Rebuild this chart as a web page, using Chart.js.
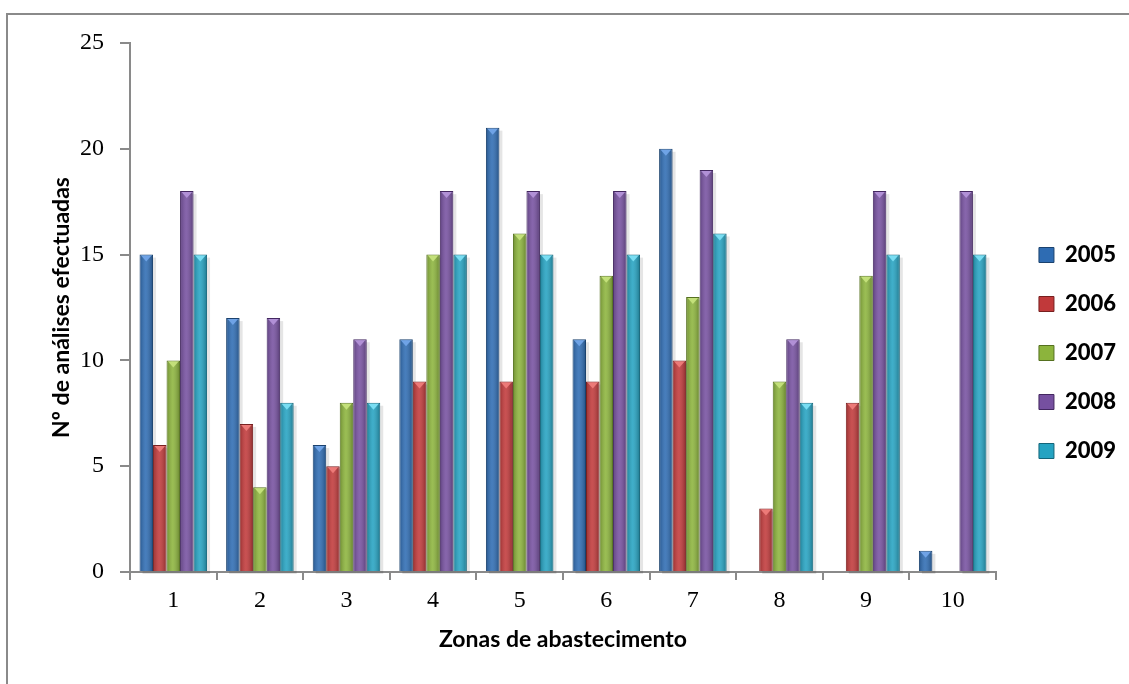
<!DOCTYPE html>
<html><head><meta charset="utf-8">
<script src="https://cdn.jsdelivr.net/npm/chart.js@4.4.0/dist/chart.umd.min.js"></script>
<style>
html,body{margin:0;padding:0;background:#fff;}
#wrap{position:relative;width:1129px;height:684px;overflow:hidden;}
#frame{position:absolute;left:6px;top:13px;right:-10px;bottom:-10px;border-left:2px solid #8a8a8a;border-top:2px solid #8a8a8a;pointer-events:none;}
canvas{position:absolute;left:0;top:0;}
</style></head><body>
<div id="wrap"><canvas id="c" width="1129" height="684"></canvas><div id="frame"></div></div>
<script>
// ---- data ----
const zonas = ['1','2','3','4','5','6','7','8','9','10'];
const anos = ['2005','2006','2007','2008','2009'];
const v2005 = [15,12,6,11,21,11,20,0,0,1];
const v2006 = [6,7,5,9,9,9,10,3,8,0];
const v2007 = [10,4,8,15,16,14,13,9,14,0];
const v2008 = [18,12,11,18,18,18,19,11,18,18];
const v2009 = [15,8,8,15,15,15,16,8,15,15];
const yTicks = [0,5,10,15,20,25];

const fills = ['#2E6CB3','#C1393A','#8CB43C','#7650A0','#25A3C2'];
const edges = ['#1B426E','#771F1F','#55701F','#432760','#14657A'];
const tops  = ['#6FA3E6','#EC7A78','#C3E07A','#B190D6','#79DDF2'];
const series = [v2005,v2006,v2007,v2008,v2009];

const datasets = anos.map((a,i)=>({
  label:a, data:series[i],
  backgroundColor:fills[i], borderColor:edges[i], borderWidth:1,
  categoryPercentage:0.78, barPercentage:1.0
}));

const barDeco = {
  id:'barDeco',
  beforeDatasetsDraw(chart){
    const ctx = chart.ctx;
    ctx.save();
    chart.data.datasets.forEach((ds,di)=>{
      chart.getDatasetMeta(di).data.forEach((el,j)=>{
        if(!ds.data[j]) return;
        const w = el.width, x0 = el.x - w/2;
        ctx.fillStyle='rgba(0,0,0,0.10)';
        ctx.fillRect(x0+3, el.y+3, w, el.base - el.y);
      });
    });
    ctx.restore();
  },
  afterDatasetsDraw(chart){
    const ctx = chart.ctx;
    ctx.save();
    chart.data.datasets.forEach((ds,di)=>{
      chart.getDatasetMeta(di).data.forEach((el,j)=>{
        if(!ds.data[j]) return;
        const w = el.width, x0 = el.x - w/2, h = el.base - el.y;
        const g = ctx.createLinearGradient(x0,0,x0+w,0);
        g.addColorStop(0,'rgba(0,0,0,0.22)');
        g.addColorStop(0.45,'rgba(255,255,255,0.12)');
        g.addColorStop(1,'rgba(0,0,0,0.28)');
        ctx.fillStyle=g;
        ctx.fillRect(x0+1, el.y+1, w-2, h-1);
        ctx.fillStyle=tops[di];
        ctx.beginPath();
        ctx.moveTo(x0+1.5, el.y+1);
        ctx.lineTo(x0+w-1.5, el.y+1);
        ctx.lineTo(el.x, el.y+Math.min(7,h-1));
        ctx.closePath();
        ctx.fill();
      });
    });
    ctx.restore();
  }
};

new Chart(document.getElementById('c'),{
  type:'bar',
  data:{labels:zonas, datasets},
  plugins:[barDeco],
  options:{
    responsive:false, animation:false,
    layout:{padding:{left:44,right:3,top:43,bottom:21}},
    plugins:{
      legend:{position:'right', align:'center',
        labels:{boxWidth:15, boxHeight:15, padding:27, color:'#000',
          font:{family:'Lato', weight:'900', size:22}}},
      tooltip:{enabled:false}
    },
    scales:{
      x:{
        offset:true,
        grid:{display:true, offset:true, drawOnChartArea:false, drawTicks:true, tickLength:8, color:'#8a8a8a', lineWidth:2},
        border:{display:true, color:'#8a8a8a', width:2},
        ticks:{color:'#000', font:{family:'Liberation Serif', size:24}, padding:6},
        title:{display:true, text:'Zonas de abastecimento', color:'#000', padding:{top:4,bottom:10},
          font:{family:'Lato', weight:'bold', size:23}},
        afterFit(s){ s.height = 91; }
      },
      y:{
        min:0, max:25,
        afterBuildTicks(s){ s.ticks = yTicks.map(v=>({value:v})); },
        grid:{display:true, drawOnChartArea:false, drawTicks:true, tickLength:10, color:'#8a8a8a', lineWidth:2},
        border:{display:true, color:'#8a8a8a', width:2},
        ticks:{color:'#000', font:{family:'Liberation Serif', size:24}, padding:16},
        title:{display:true, text:'Nº de análises efectuadas', color:'#000', font:{family:'Lato', weight:'bold', size:23}},
        afterFit(s){ s.width = 86; }
      },
      gap:{
        position:'right', display:true,
        grid:{display:false}, border:{display:false}, ticks:{display:false}, title:{display:false},
        afterFit(s){ s.width = 16; }
      }
    }
  }
});
</script>
</body></html>
